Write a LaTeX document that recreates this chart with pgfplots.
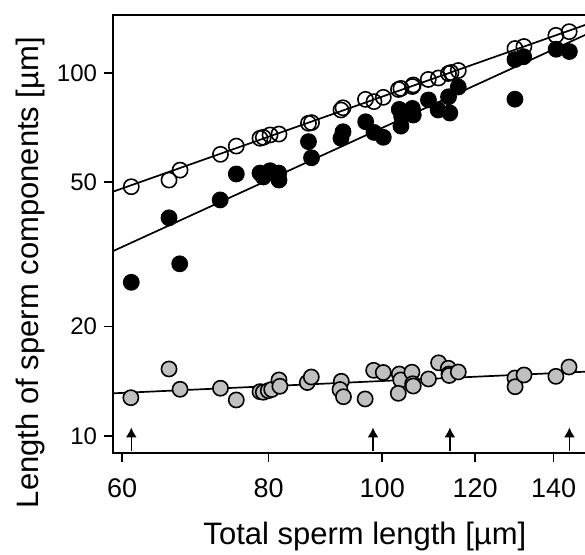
\documentclass[border=0pt]{standalone}
\usepackage{pgfplots}
\pgfplotsset{compat=1.18}
\usepackage{pgfplotstable}
\usepackage{fontspec}
\setmainfont{Liberation Sans}
\usetikzlibrary{arrows.meta}

\definecolor{markgray}{RGB}{192,192,192}

% open circles
\pgfplotstableread{
x y
61.10 48.6
65.80 50.7
67.24 54.0
72.80 59.7
75.09 62.9
78.67 66.1
79.18 66.5
80.23 67.5
81.65 67.9
86.52 72.7
87.04 73.0
92.22 79.1
92.59 80.2
96.76 84.6
98.39 83.4
100.21 85.7
103.24 90.1
103.74 90.7
106.11 91.8
106.28 92.7
109.46 96.0
111.67 96.9
113.89 99.7
114.45 100.3
116.10 101.6
129.76 116.8
132.07 118.3
140.63 127.0
144.35 130.0
}\opendata

% filled circles
\pgfplotstableread{
x y
61.10 26.5
67.19 29.8
65.80 39.9
72.75 44.7
75.10 52.7
78.67 53.0
79.18 51.7
80.23 53.8
81.61 53.0
81.65 50.7
86.52 64.7
87.04 58.4
92.22 66.1
92.59 68.9
96.80 73.4
98.39 68.6
100.21 66.5
103.40 79.4
103.74 71.4
103.89 75.8
106.10 79.9
106.28 76.6
109.50 84.3
111.60 79.1
113.90 86.0
114.20 77.6
116.10 91.5
129.76 108.9
132.00 110.9
129.76 84.7
140.70 116.3
144.40 114.6
}\filleddata

% grey circles
\pgfplotstableread{
x y
61.05 12.74
65.80 15.29
67.24 13.44
72.80 13.53
75.09 12.56
78.67 13.24
79.18 13.19
79.96 13.32
80.49 13.42
81.65 14.26
81.80 13.70
86.32 14.03
87.00 14.53
92.28 14.14
92.04 13.42
92.67 12.82
96.70 12.64
98.33 15.16
100.20 14.95
103.40 14.81
103.70 14.26
103.20 13.10
106.00 14.98
106.15 13.92
106.28 13.72
109.50 14.35
111.70 15.90
113.86 15.36
114.00 14.81
114.05 14.67
116.10 15.00
129.76 14.44
129.80 13.66
132.10 14.72
140.63 14.59
144.30 15.48
}\greydata

\begin{document}
\begin{tikzpicture}
\begin{axis}[
    scale only axis,
    width=239.9pt, height=219pt,
    xmode=log, ymode=log,
    xmin=58.95, xmax=151.2,
    ymin=8.97, ymax=144.5,
    xtick={60,80,100,120,140},
    xticklabels={60,80,100,120,140},
    ytick={10,20,50,100},
    yticklabels={10,20,50,100},
    minor xtick={}, minor ytick={},
    tick align=outside,
    tick pos=left,
    major tick length=4.5pt,
    axis line style={line width=1pt},
    every tick/.style={black, line width=0.8pt},
    yticklabel style={font=\fontsize{12}{14}\selectfont},
    xticklabel style={font=\fontsize{13.5}{16}\selectfont, yshift=-5pt},
    label style={font=\fontsize{15.5}{18}\selectfont},
    xlabel={Total sperm length [µm]},
    ylabel={Length of sperm components [µm]},
    xlabel style={at={(axis description cs:0.525,-0.19)}, anchor=center},
    ylabel style={at={(axis description cs:-0.173,0.412)}, anchor=center, rotate=0},
    clip=false,
]
\addplot[only marks, mark=*, mark size=3.8pt,
    mark options={fill=markgray, draw=black, line width=0.8pt}]
    table[x=x, y=y] {\greydata};
\addplot[only marks, mark=o, mark size=3.8pt,
    mark options={draw=black, line width=0.8pt}]
    table[x=x, y=y] {\opendata};
\addplot[only marks, mark=*, mark size=3.8pt,
    mark options={fill=black, draw=black, line width=0.8pt}]
    table[x=x, y=y] {\filleddata};
% fitted lines
\addplot[black, line width=0.85pt] coordinates {(58.95,47.1) (151.2,138.0)};
\addplot[black, line width=0.85pt] coordinates {(58.95,32.3) (151.2,130.2)};
\addplot[black, line width=0.85pt] coordinates {(58.95,13.10) (151.2,15.06)};
% arrows
\foreach \ax in {61.1,98.2,114.2,144.4}{
    \edef\temp{\noexpand\draw[line width=0.75pt, -{Latex[length=5pt,width=5.5pt]}] (axis cs:\ax,9.1) -- (axis cs:\ax,10.55);}
    \temp
}
\end{axis}
\pgfresetboundingbox
\path[use as bounding box] (current axis.south west) ++(-56.5pt,-50.5pt) rectangle ++(292.5pt,277pt);
\end{tikzpicture}
\end{document}
